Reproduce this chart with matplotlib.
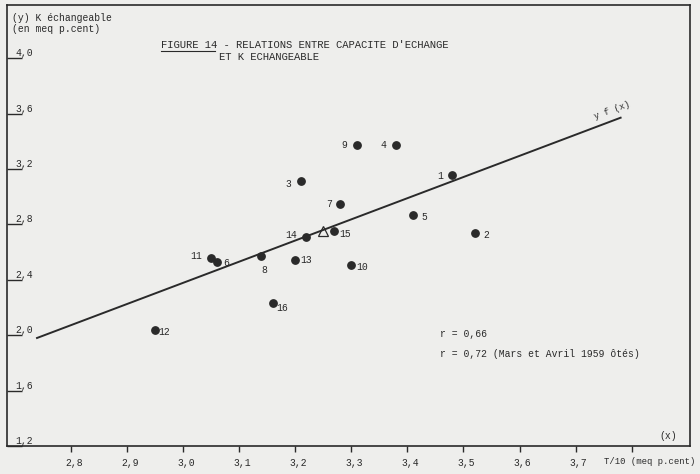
import matplotlib
matplotlib.use("Agg")
import matplotlib.pyplot as plt
import matplotlib.transforms as mtransforms

# Data
labels = ["1", "2", "3", "4", "5", "6", "7", "8",
          "9", "10", "11", "12", "13", "14", "15", "16"]
cap_x = [3.48, 3.52, 3.21, 3.38, 3.41, 3.06, 3.28, 3.14,
         3.31, 3.30, 3.05, 2.95, 3.20, 3.22, 3.27, 3.16]
k_y = [3.16, 2.74, 3.11, 3.37, 2.87, 2.53, 2.95, 2.57,
       3.37, 2.51, 2.56, 2.04, 2.54, 2.71, 2.75, 2.23]

# mean point (triangle) and regression line y = f(x)
mean_x = [3.25]
mean_y = [2.75]
reg_x = [2.74, 3.78]
reg_y = [1.98, 3.57]

x_ticks = [2.8, 2.9, 3.0, 3.1, 3.2, 3.3, 3.4, 3.5, 3.6, 3.7, 3.8]
x_ticklabels = ["2,8", "2,9", "3,0", "3,1", "3,2", "3,3", "3,4", "3,5", "3,6", "3,7", ""]
y_ticks = [1.2, 1.6, 2.0, 2.4, 2.8, 3.2, 3.6, 4.0]
y_ticklabels = ["1,2", "1,6", "2,0", "2,4", "2,8", "3,2", "3,6", "4,0"]

# where each point number sits (offset in points)
label_offsets = {
    "1": (-9, -1), "2": (8, -2), "3": (-9, -2), "4": (-9, 0),
    "5": (8, -2), "6": (7, -1), "7": (-8, 0), "8": (2, -10),
    "9": (-9, 0), "10": (8, -2), "11": (-11, 1), "12": (7, -2),
    "13": (8, 0), "14": (-11, 1), "15": (8, -2), "16": (7, -3),
}

ink = "#2a2a2a"
paper = "#eeeeec"
font = "Liberation Mono"
fs = 7

fig = plt.figure(figsize=(7.0, 4.74), dpi=100, facecolor=paper)
ax = fig.add_axes([0.010, 0.059, 0.976, 0.930])
ax.set_facecolor(paper)

ax.set_xlim(2.6865, 3.904)
ax.set_ylim(1.2, 4.382)

for s in ax.spines.values():
    s.set_color(ink)
    s.set_linewidth(1.2)

# regression line
ax.plot(reg_x, reg_y, color=ink, lw=1.4)

# points
ax.plot(cap_x, k_y, "o", color=ink, markersize=5.3, linestyle="none")
ax.plot(mean_x, mean_y, "^", color=ink, markersize=7, fillstyle="none",
        markeredgewidth=0.9, linestyle="none")

for lab, x, y in zip(labels, cap_x, k_y):
    dx, dy = label_offsets[lab]
    ax.annotate(lab, (x, y), xytext=(dx, dy), textcoords="offset points",
                ha="center", va="center", fontsize=fs, family=font, color=ink)

# x axis ticks below
ax.set_xticks(x_ticks)
ax.set_xticklabels(x_ticklabels, family=font, fontsize=fs, color=ink)
ax.tick_params(axis="x", direction="out", length=4.5, width=1, color=ink, pad=4)
for t in ax.get_xticklabels():
    t.set_transform(t.get_transform() + mtransforms.ScaledTranslation(3 / 100, 0, fig.dpi_scale_trans))

# y axis ticks as short inner marks with the values written on them
ax.set_yticks(y_ticks)
ax.set_yticklabels([])
ax.tick_params(axis="y", direction="in", length=11, width=1, color=ink)
ytrans = mtransforms.blended_transform_factory(ax.transAxes, ax.transData)
for v, lab in zip(y_ticks, y_ticklabels):
    ax.text(0.012, v, lab, transform=ytrans, ha="left", va="bottom",
            fontsize=fs, family=font, color=ink)

# texts
ax.text(0.007, 0.982, "(y) K échangeable\n(en meq p.cent)", transform=ax.transAxes,
        ha="left", va="top", fontsize=fs, family=font, color=ink, linespacing=1.05)

ax.text(0.225, 0.910, "FIGURE 14 - RELATIONS ENTRE CAPACITE D'ECHANGE",
        transform=ax.transAxes, ha="left", va="center",
        fontsize=7.6, family=font, color=ink)
ax.plot([0.225, 0.305], [0.897, 0.897], transform=ax.transAxes, color=ink, lw=0.8)
ax.text(0.310, 0.883, "ET K ECHANGEABLE", transform=ax.transAxes,
        ha="left", va="center", fontsize=7.6, family=font, color=ink)

ax.text(3.765, 3.625, "y f (x)", rotation=20, ha="center", va="center",
        fontsize=6.5, family=font, color=ink)

ax.text(0.634, 0.255, "r = 0,66", transform=ax.transAxes, ha="left", va="center",
        fontsize=fs, family=font, color=ink)
ax.text(0.634, 0.208, "r = 0,72 (Mars et Avril 1959 ôtés)", transform=ax.transAxes,
        ha="left", va="center", fontsize=fs, family=font, color=ink)

ax.text(0.98, 0.022, "(x)", transform=ax.transAxes, ha="right", va="center",
        fontsize=fs, family=font, color=ink)
ax.text(3.750, 1.2, "T/10 (meq p.cent)", ha="left", va="top", fontsize=6.4,
        family=font, color=ink,
        transform=ax.transData + mtransforms.ScaledTranslation(0, -11 / 100, fig.dpi_scale_trans))

fig.savefig("out.png", dpi=100, facecolor=paper)
